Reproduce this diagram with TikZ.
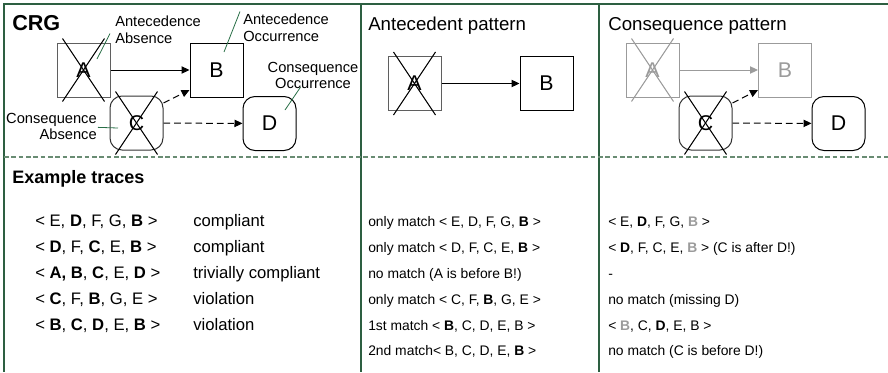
\documentclass[tikz,border=0pt]{standalone}
\usepackage{fontspec}
\setmainfont{Liberation Sans}
\usetikzlibrary{arrows.meta,calc}
\definecolor{framec}{RGB}{45,95,65}
\definecolor{dashc}{RGB}{105,140,115}
\definecolor{leadc}{RGB}{40,110,70}
\definecolor{faint}{RGB}{155,155,155}
\definecolor{boxgray}{RGB}{95,95,95}
\definecolor{cgray}{RGB}{50,50,50}
\newcommand{\xcrossout}[2]{%
  \draw[#2, line width=0.75pt] ($(#1.north west)+(6,-4)$) -- ($(#1.south east)+(-6,4)$);
  \draw[#2, line width=0.75pt] ($(#1.north east)+(-6,-4)$) -- ($(#1.south west)+(6,4)$);}
\newcommand{\gB}{\textcolor{faint}{\textbf{B}}}
\begin{document}
\begin{tikzpicture}[x=0.75pt,y=-0.75pt,
  sq/.style={draw, minimum width=39.75pt, minimum height=40.5pt, inner sep=0pt,
    font=\fontsize{16}{18}\selectfont, line width=0.75pt},
  rsq/.style={sq, rounded corners=9pt},
  arr/.style={-{Triangle[length=6pt,width=5.5pt]}, line width=0.75pt},
  dsh/.style={arr, dash pattern=on 5pt off 3pt},
  lbl/.style={font=\fontsize{11}{12.6}\selectfont, inner sep=0pt},
  leader/.style={draw=leadc, line width=0.6pt},
  head/.style={font=\fontsize{14}{16}\selectfont, anchor=west, inner sep=0pt},
  tA/.style={font=\fontsize{12.5}{14}\selectfont, anchor=base west, inner sep=0pt},
  tB/.style={font=\fontsize{10.4}{12}\selectfont, anchor=base west, inner sep=0pt},
  divider/.style={draw=framec, line width=1pt},
]
\useasboundingbox (0,0) rectangle (888,372);
% frame and dividers
\draw[divider] (888,4) -- (4,4) -- (4,372);
\draw[divider] (361,4) -- (361,372);
\draw[divider] (599,4) -- (599,372);
\draw[dashc, line width=0.8pt, dash pattern=on 3.5pt off 2pt] (4,157) -- (888,157);

% ---------- CRG panel ----------
\node[font=\bfseries\fontsize{16.2}{18}\selectfont, anchor=west, inner sep=0pt] (crg) at (12,23) {CRG};
\node[sq, draw=boxgray] (A1) at (83.5,70) {A};
\node[sq] (B1) at (216.5,70) {B};
\node[rsq, draw=cgray] (C1) at (136.5,123) {C};
\node[rsq] (D1) at (269.5,123.5) {D};
\xcrossout{A1}{black}
\xcrossout{C1}{black}
\draw[arr] (A1) -- (B1);
\draw[dsh] ([yshift=15pt]C1.east) -- ([yshift=-15pt]B1.west);
\draw[dsh] (C1) -- (D1);

\node[lbl, align=left, anchor=north west] (lAA) at (115,15.5) {Antecedence\\Absence};
\node[lbl, align=left, anchor=north west] (lAO) at (243,13.5) {Antecedence\\Occurrence};
\node[lbl, align=center, anchor=north] (lCO) at (313,61.5) {Consequence\\Occurrence};
\node[lbl, align=right, anchor=north east] (lCA) at (97,112.5) {Consequence\\Absence};
\coordinate (eAA) at (97,59);
\coordinate (eAO) at (224,52);
\coordinate (eCO) at (285,110);
\coordinate (eCA) at (118,128);
\draw[leader] ($(lAA.west)+(-5,4)$) -- (eAA);
\draw[leader] ($(lAO.north west)+(-3,-2)$) -- (eAO);
\draw[leader] ($(lCO.south west)+(33,-2)$) -- (eCO);
\draw[leader] ($(lCA.east)+(1,1)$) -- (eCA);

% ---------- Antecedent pattern ----------
\node[head] (hAP) at (368,26) {Antecedent pattern};
\node[sq, draw=boxgray] (A2) at (414.5,83.5) {A};
\node[sq] (B2) at (546.5,83.5) {B};
\xcrossout{A2}{black}
\draw[arr] (A2) -- (B2);

% ---------- Consequence pattern ----------
\node[head] (hCP) at (608,26) {Consequence pattern};
\node[sq, draw=faint, text=faint] (A3) at (652.5,70) {A};
\node[sq, draw=faint, text=faint] (B3) at (785,70) {B};
\node[rsq, draw=cgray] (C3) at (705.5,123) {C};
\node[rsq] (D3) at (838.5,123.5) {D};
\xcrossout{A3}{faint}
\xcrossout{C3}{black}
\draw[arr, faint] (A3) -- (B3);
\draw[dsh] ([yshift=15pt]C3.east) -- ([yshift=-15pt]B3.west);
\draw[dsh] (C3) -- (D3);

% ---------- Example traces ----------
\node[font=\bfseries\fontsize{13.5}{15}\selectfont, anchor=west, inner sep=0pt] (ex) at (12,179) {Example traces};

\node[tA] (t1) at (35,226) {< E, \textbf{D}, F, G, \textbf{B} >};
\node[tA] (t2) at (35,252) {< \textbf{D}, F, \textbf{C}, E, \textbf{B} >};
\node[tA] (t3) at (35,278) {< \textbf{A, B}, \textbf{C}, E, \textbf{D} >};
\node[tA] (t4) at (35,304) {< \textbf{C}, F, \textbf{B}, G, E >};
\node[tA] (t5) at (35,330) {< \textbf{B}, \textbf{C}, \textbf{D}, E, \textbf{B} >};

\node[tA] (s1) at (193,226) {compliant};
\node[tA] (s2) at (193,252) {compliant};
\node[tA] (s3) at (193,278) {trivially compliant};
\node[tA] (s4) at (193,304) {violation};
\node[tA] (s5) at (193,330) {violation};

\node[tB] (m1) at (368,226) {only match < E, D, F, G, \textbf{B} >};
\node[tB] (m2) at (368,252) {only match < D, F, C, E, \textbf{B} >};
\node[tB] (m3) at (368,278) {no match (A is before B!)};
\node[tB] (m4) at (368,304) {only match < C, F, \textbf{B}, G, E >};
\node[tB] (m5) at (368,330) {1st match < \textbf{B}, C, D, E, B >};
\node[tB] (m6) at (368,355) {2nd match< B, C, D, E, \textbf{B} >};

\node[tB] (r1) at (608,226) {< E, \textbf{D}, F, G, \gB{} >};
\node[tB] (r2) at (608,252) {< \textbf{D}, F, C, E, \gB{} > (C is after D!)};
\node[tB] (r3) at (608,278) {-};
\node[tB] (r4) at (608,304) {no match (missing D)};
\node[tB] (r5) at (608,330) {< \gB{}, C, \textbf{D}, E, B >};
\node[tB] (r6) at (608,355) {no match (C is before D!)};
\end{tikzpicture}
\end{document}
